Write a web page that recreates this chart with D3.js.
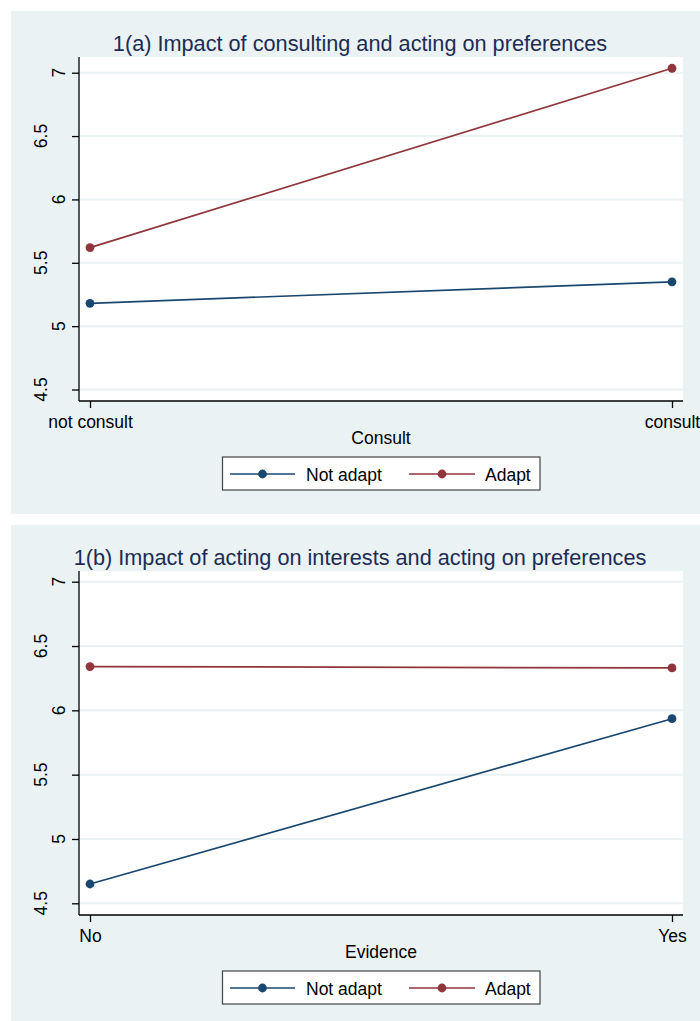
<!DOCTYPE html>
<html>
<head>
<meta charset="utf-8">
<script src="https://cdn.jsdelivr.net/npm/d3@7"></script>
<style>
  body { margin: 0; background: #fff; }
  text { font-family: "Liberation Sans", Arial, Helvetica, sans-serif; }
</style>
</head>
<body>
<div id="chart"></div>
<script>
// data
const seriesNames = ["Not adapt", "Adapt"];
const seriesColors = ["#1a476f", "#90353b"];
const yTicks = [4.5, 5, 5.5, 6, 6.5, 7];

const titleA = "1(a) Impact of consulting and acting on preferences";
const catsA = ["not consult", "consult"];
const xTitleA = "Consult";
const notAdaptA = [5.18, 5.35];
const adaptA = [5.62, 7.035];

const titleB = "1(b) Impact of acting on interests and acting on preferences";
const catsB = ["No", "Yes"];
const xTitleB = "Evidence";
const notAdaptB = [4.65, 5.935];
const adaptB = [6.34, 6.33];

var svg = d3.select("#chart")
  .append("svg")
    .attr("width", 700)
    .attr("height", 1021);

var bg = "#eaf2f3";
var fontSize = 17.5;

// one panel of the figure
function drawPanel(top, bottom, title, cats, xTitle, series, y7px, y45px) {
  var g = svg.append("g");

  g.append("rect")
    .attr("x", 11).attr("y", top)
    .attr("width", 700 - 11).attr("height", bottom - top)
    .attr("fill", bg);

  var plotTop = top + 46, plotBottom = top + 390;
  var left = 79, right = 683;

  g.append("rect")
    .attr("x", left).attr("y", plotTop)
    .attr("width", right - left).attr("height", plotBottom - plotTop)
    .attr("fill", "#fff");

  var y = d3.scaleLinear().domain([4.5, 7]).range([y45px, y7px]);
  var x = d3.scalePoint().domain(cats).range([90, 672]);

  // gridlines
  g.selectAll(".grid")
    .data(yTicks)
    .enter()
    .append("line")
      .attr("x1", left).attr("x2", right)
      .attr("y1", d => y(d)).attr("y2", d => y(d))
      .attr("stroke", bg)
      .attr("stroke-width", 2);

  // y axis
  var yAxis = g.append("g")
    .attr("transform", "translate(" + left + ",0)")
    .call(d3.axisLeft(y).tickValues(yTicks).tickSize(7).tickFormat(d3.format("")));
  yAxis.select(".domain").attr("d", "M0," + plotTop + "V" + plotBottom).attr("stroke", "#000").attr("stroke-width", 1.3);
  yAxis.selectAll(".tick line").attr("stroke", "#000").attr("stroke-width", 1.3);
  yAxis.selectAll(".tick text").remove();

  // rotated, staggered tick labels
  g.selectAll(".ylab")
    .data(yTicks)
    .enter()
    .append("text")
      .attr("transform", (d, i) => "translate(" + (i % 2 === 0 ? 47 : 65) + "," + y(d) + ") rotate(-90)")
      .attr("text-anchor", "middle")
      .attr("font-size", fontSize)
      .attr("fill", "#000")
      .text(d => d);

  // x axis
  var xAxis = g.append("g")
    .attr("transform", "translate(0," + plotBottom + ")")
    .call(d3.axisBottom(x).tickSize(7).tickPadding(0));
  xAxis.select(".domain").attr("d", "M" + left + ",0H" + right).attr("stroke", "#000").attr("stroke-width", 1.3);
  xAxis.selectAll(".tick line").attr("stroke", "#000").attr("stroke-width", 1.3);
  xAxis.selectAll(".tick text")
    .attr("font-size", fontSize)
    .attr("font-family", "Liberation Sans, Arial, sans-serif")
    .attr("fill", "#000")
    .attr("dy", null)
    .attr("y", 27);

  g.append("text")
    .attr("x", (left + right) / 2)
    .attr("y", plotBottom + 43)
    .attr("text-anchor", "middle")
    .attr("font-size", fontSize)
    .attr("fill", "#000")
    .text(xTitle);

  // title
  g.append("text")
    .attr("x", 360)
    .attr("y", top + 39.5)
    .attr("text-anchor", "middle")
    .attr("font-size", 21.7)
    .attr("fill", "#1c2c55")
    .text(title);

  // lines and markers
  var line = d3.line()
    .x((d, i) => x(cats[i]))
    .y(d => y(d));

  series.forEach(function(vals, s) {
    g.append("path")
      .datum(vals)
      .attr("d", line)
      .attr("fill", "none")
      .attr("stroke", seriesColors[s])
      .attr("stroke-width", 1.7);
    g.selectAll(".pt" + s)
      .data(vals)
      .enter()
      .append("circle")
        .attr("cx", (d, i) => x(cats[i]))
        .attr("cy", d => y(d))
        .attr("r", 4.4)
        .attr("fill", seriesColors[s]);
  });

  // legend
  var ly = top + 446;
  var lg = g.append("g");
  lg.append("rect")
    .attr("x", 222.5).attr("y", ly)
    .attr("width", 317.5).attr("height", 33)
    .attr("fill", "#fff")
    .attr("stroke", "#444")
    .attr("stroke-width", 1.2);
  var items = [{x1: 230, x2: 295, tx: 306}, {x1: 409, x2: 475, tx: 485}];
  items.forEach(function(it, s) {
    lg.append("line")
      .attr("x1", it.x1).attr("x2", it.x2)
      .attr("y1", ly + 17).attr("y2", ly + 17)
      .attr("stroke", seriesColors[s])
      .attr("stroke-width", 1.7);
    lg.append("circle")
      .attr("cx", (it.x1 + it.x2) / 2).attr("cy", ly + 17)
      .attr("r", 4.4)
      .attr("fill", seriesColors[s]);
    lg.append("text")
      .attr("x", it.tx).attr("y", ly + 23.5)
      .attr("font-size", fontSize)
      .attr("fill", "#000")
      .text(seriesNames[s]);
  });
}

drawPanel(11, 514, titleA, catsA, xTitleA, [notAdaptA, adaptA], 72.7, 389.5);
drawPanel(525, 1021, titleB, catsB, xTitleB, [notAdaptB, adaptB], 581.7, 903.3);
</script>
</body>
</html>
